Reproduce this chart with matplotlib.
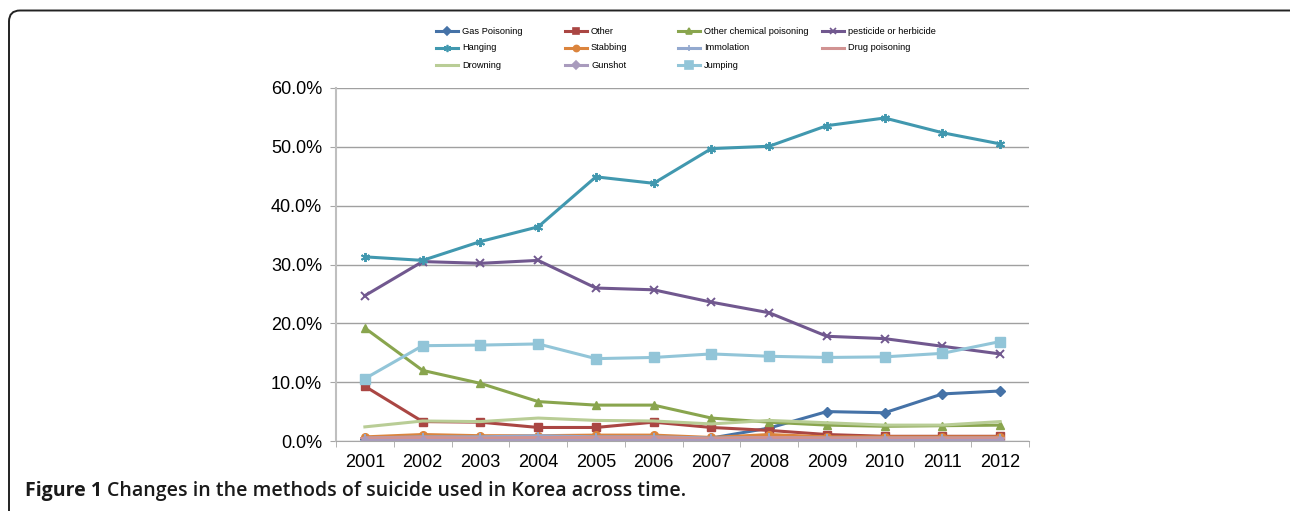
import matplotlib.pyplot as plt
from matplotlib.lines import Line2D
from matplotlib.patches import FancyBboxPatch

plt.rcParams['font.family'] = ['Liberation Sans', 'DejaVu Sans']

years = [2001, 2002, 2003, 2004, 2005, 2006, 2007, 2008, 2009, 2010, 2011, 2012]

# share of suicides by method (fraction)
gas_poisoning = [0.004, 0.005, 0.005, 0.005, 0.005, 0.005, 0.005, 0.022, 0.050, 0.048, 0.080, 0.085]
other = [0.093, 0.033, 0.032, 0.023, 0.023, 0.032, 0.023, 0.018, 0.011, 0.008, 0.008, 0.008]
other_chemical = [0.192, 0.120, 0.098, 0.067, 0.061, 0.061, 0.039, 0.032, 0.027, 0.025, 0.026, 0.027]
pesticide = [0.247, 0.305, 0.302, 0.307, 0.260, 0.257, 0.236, 0.218, 0.178, 0.174, 0.161, 0.148]
hanging = [0.313, 0.307, 0.339, 0.364, 0.449, 0.438, 0.497, 0.501, 0.536, 0.549, 0.524, 0.505]
stabbing = [0.007, 0.011, 0.009, 0.009, 0.010, 0.010, 0.006, 0.011, 0.007, 0.007, 0.007, 0.007]
immolation = [0.005, 0.007, 0.007, 0.009, 0.007, 0.007, 0.005, 0.006, 0.005, 0.005, 0.005, 0.005]
drug_poisoning = [0.005, 0.006, 0.005, 0.006, 0.006, 0.006, 0.004, 0.006, 0.005, 0.005, 0.005, 0.005]
drowning = [0.024, 0.034, 0.033, 0.039, 0.035, 0.034, 0.029, 0.035, 0.031, 0.027, 0.027, 0.033]
gunshot = [0.001, 0.001, 0.001, 0.001, 0.001, 0.001, 0.001, 0.001, 0.001, 0.001, 0.001, 0.001]
jumping = [0.106, 0.162, 0.163, 0.165, 0.140, 0.142, 0.148, 0.144, 0.142, 0.143, 0.149, 0.169]

# (label, values, color, marker, markersize)
series = [
    ("Gas Poisoning", gas_poisoning, "#4572A7", "D", 5),
    ("Other", other, "#AA4643", "s", 5.5),
    ("Other chemical poisoning", other_chemical, "#89A54E", "^", 6),
    ("pesticide or herbicide", pesticide, "#71588F", "x", 6),
    ("Hanging", hanging, "#4198AF", (6, 2, 0), 6.5),
    ("Stabbing", stabbing, "#DB843D", "o", 5.5),
    ("Immolation", immolation, "#93A9CF", "+", 6),
    ("Drug poisoning", drug_poisoning, "#D19392", "_", 7),
    ("Drowning", drowning, "#B9CD96", "None", 0),
    ("Gunshot", gunshot, "#A99BBD", "D", 4.5),
    ("Jumping", jumping, "#92C5D8", "s", 7),
]

W, H = 1290, 511
fig = plt.figure(figsize=(W / 100, H / 100), dpi=100)
ax = fig.add_axes([336 / W, 1 - 441 / H, (1029 - 336) / W, (441 - 88) / H])

for label, vals, color, marker, ms in series:
    ax.plot(years, vals, color=color, lw=2.2, marker=marker, ms=ms,
            mew=1.4 if marker in ("x", "+", "_", (6, 2, 0)) else 1,
            mec=color, mfc=color, solid_joinstyle="round")

ax.set_xlim(2000.5, 2012.5)
ax.set_ylim(0, 0.6)
ax.set_yticks([0, 0.1, 0.2, 0.3, 0.4, 0.5, 0.6])
ax.set_yticklabels([f"{v * 100:.1f}%" for v in ax.get_yticks()])
ax.set_xticks(years)
ax.set_xticks([y + 0.5 for y in years[:-1]] + [2000.5, 2012.5], minor=True)
ax.tick_params(axis="x", which="major", length=0, pad=9, labelsize=13)
ax.tick_params(axis="x", which="minor", length=4, color="#A6A6A6")
ax.tick_params(axis="y", length=4, color="#A6A6A6", pad=6, labelsize=13)
ax.yaxis.grid(True, color="#A0A0A0", lw=1)
ax.set_axisbelow(True)
for s in ("top", "right"):
    ax.spines[s].set_visible(False)
ax.spines["left"].set_color("#BFBFBF")
ax.spines["left"].set_linewidth(1.5)
ax.spines["bottom"].set_color("#A6A6A6")

# legend laid out like the spreadsheet one: four columns, row-major order
col_x = [436, 565, 678, 822]
row_y = [31, 48, 65]
for i, (label, vals, color, marker, ms) in enumerate(series):
    cx = col_x[i % 4]
    ry = row_y[i // 4]
    fig.add_artist(Line2D([cx / W, (cx + 22) / W], [1 - ry / H] * 2,
                          color=color, lw=2.2, transform=fig.transFigure))
    fig.add_artist(Line2D([(cx + 11) / W], [1 - ry / H], color=color, lw=0,
                          marker=marker, ms=ms * 0.8, mec=color, mfc=color,
                          mew=1.2, transform=fig.transFigure))
    fig.text((cx + 26) / W, 1 - ry / H, label, fontsize=6.7, va="center",
             ha="left")

# rounded frame around the figure panel
frame = FancyBboxPatch((0.09, -1), 14, 5.11 - 0.105 + 1,
                       boxstyle="round,pad=0,rounding_size=0.11",
                       transform=fig.dpi_scale_trans, fill=False,
                       ec="#222222", lw=1.4)
fig.add_artist(frame)

# caption: bold figure number followed by semibold text
cap_y = 1 - 491 / H
cap_font = ["Open Sans", "DejaVu Sans"]
t1 = fig.text(25 / W, cap_y, "Figure 1", fontsize=14, fontweight="bold",
              va="center", family=cap_font, color="#1a1a1a")
fig.canvas.draw()
bb = t1.get_window_extent()
fig.text((bb.x1 + 5) / W, cap_y, "Changes in the methods of suicide used in Korea across time.",
         fontsize=14, fontweight="semibold", va="center", family=cap_font,
         color="#1a1a1a")

fig.savefig("out.png", dpi=100)
